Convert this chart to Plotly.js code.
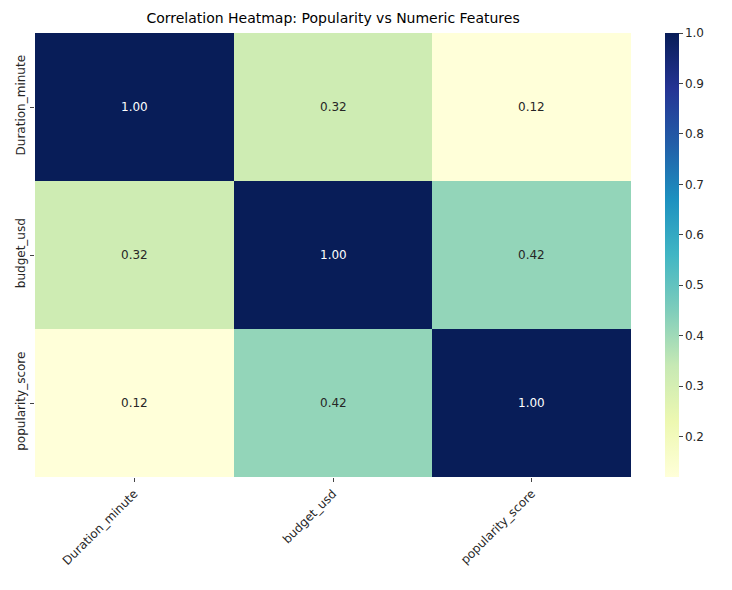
<!DOCTYPE html>
<html>
<head>
<meta charset="utf-8">
<script src="https://cdn.plot.ly/plotly-3.0.1.min.js"></script>
<style>body{margin:0;background:#fff}</style>
</head>
<body>
<div id="chart" style="width:732px;height:590px"></div>
<script>
// correlation matrix, rows top to bottom
var features = ["Duration_minute", "budget_usd", "popularity_score"];
var corr = [
	[1.00, 0.32, 0.12],
	[0.32, 1.00, 0.42],
	[0.12, 0.42, 1.00]
];

var ylgnbu = [
	[0, "#ffffd9"], [0.125, "#edf8b1"], [0.25, "#c7e9b4"], [0.375, "#7fcdbb"],
	[0.5, "#41b6c4"], [0.625, "#1d91c0"], [0.75, "#225ea8"], [0.875, "#253494"], [1, "#081d58"]
];

var zmin = 0.12, zmax = 1.0;

// cell labels, white on dark cells
var notes = [];
for (var i = 0; i < features.length; i++) {
	for (var j = 0; j < features.length; j++) {
		var v = corr[i][j];
		notes.push({
			x: features[j], y: features[i], text: v.toFixed(2), showarrow: false,
			font: {size: 12, color: ((v - zmin) / (zmax - zmin) > 0.5) ? "#ffffff" : "#262626"}
		});
	}
}

var trace = {
	type: "heatmap",
	x: features,
	y: features,
	z: corr,
	zmin: zmin,
	zmax: zmax,
	colorscale: ylgnbu,
	xgap: 0, ygap: 0,
	hoverinfo: "none",
	colorbar: {
		x: 1.057, xanchor: "left", y: 0.5, yanchor: "middle", len: 1, lenmode: "fraction",
		xpad: 0, ypad: 0,
		thickness: 14, outlinewidth: 0,
		tickvals: [0.2, 0.3, 0.4, 0.5, 0.6, 0.7, 0.8, 0.9, 1.0],
		ticktext: ["0.2", "0.3", "0.4", "0.5", "0.6", "0.7", "0.8", "0.9", "1.0"],
		ticks: "outside", ticklen: 4, tickfont: {size: 12, color: "#262626"}
	}
};

var layout = {
	width: 732, height: 590,
	margin: {l: 35, r: 101, t: 33, b: 113},
	font: {family: "DejaVu Sans", size: 12, color: "#262626"},
	paper_bgcolor: "#ffffff", plot_bgcolor: "#ffffff",
	title: {text: "Correlation Heatmap: Popularity vs Numeric Features", x: 0.455, xanchor: "center", y: 0.97, yanchor: "middle", font: {size: 14, color: "#000000"}},
	xaxis: {tickangle: -45, ticks: "outside", ticklen: 4, showgrid: false, zeroline: false, tickfont: {size: 12}},
	yaxis: {autorange: "reversed", tickangle: -90, ticks: "outside", ticklen: 4, showgrid: false, zeroline: false, tickfont: {size: 12}},
	annotations: notes
};

Plotly.newPlot("chart", [trace], layout, {displayModeBar: false});
</script>
</body>
</html>
